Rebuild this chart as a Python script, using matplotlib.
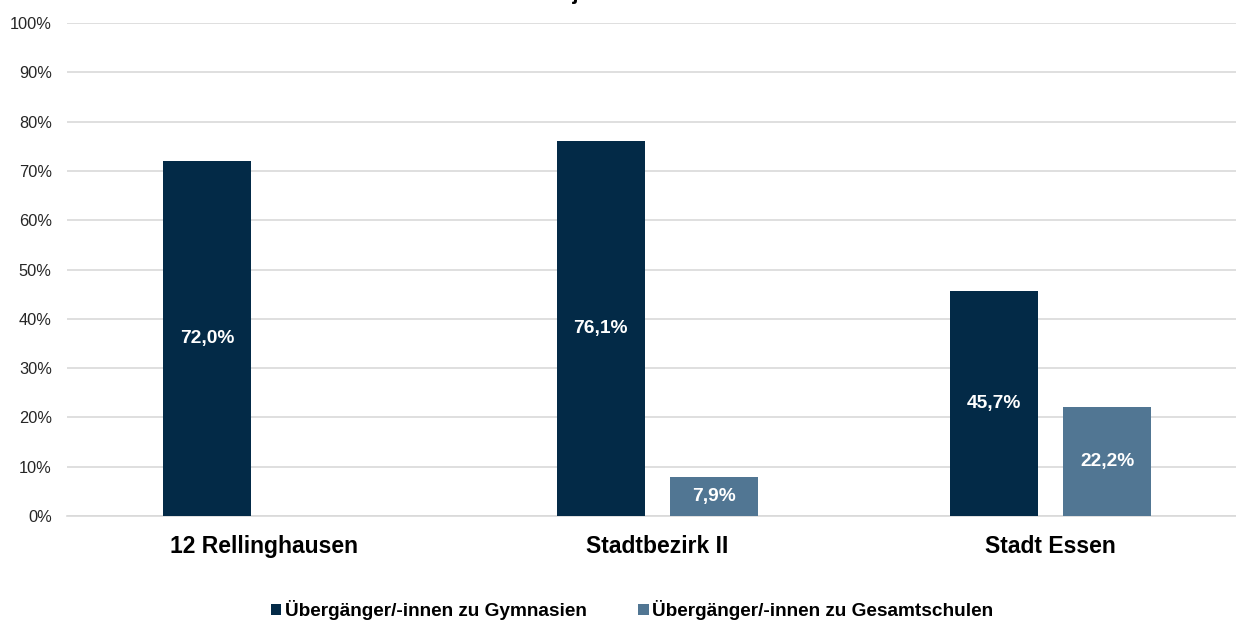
import numpy as np
import matplotlib
matplotlib.use('Agg')
import matplotlib.pyplot as plt
from matplotlib.ticker import FuncFormatter

plt.rcParams['font.family'] = ['Liberation Sans', 'DejaVu Sans']

# Daten
kategorien = ['12 Rellinghausen', 'Stadtbezirk II', 'Stadt Essen']
gymnasien = [72.0, 76.1, 45.7]
gesamtschulen = [np.nan, 7.9, 22.2]
serien = ['Übergänger/-innen zu Gymnasien', 'Übergänger/-innen zu Gesamtschulen']
titel = 'Schuljahr 2020/21'

farbe_dunkel = '#032A47'
farbe_hell = '#517693'

fig = plt.figure(figsize=(12.36, 6.2), dpi=100)
ax = fig.add_axes([67 / 1236, 1 - 516 / 620, 1180.5 / 1236, (516 - 23) / 620])

x = np.arange(len(kategorien))
breite = 0.224
versatz = 0.1435

b1 = ax.bar(x - versatz, gymnasien, breite, color=farbe_dunkel, label=serien[0], zorder=3)
b2 = ax.bar(x + versatz, gesamtschulen, breite, color=farbe_hell, label=serien[1], zorder=3)

# Beschriftung in der Mitte der Balken
for balken in (b1, b2):
    for rect in balken:
        h = rect.get_height()
        if np.isnan(h):
            continue
        ax.text(rect.get_x() + rect.get_width() / 2, h / 2,
                f'{h:.1f}%'.replace('.', ','),
                ha='center', va='center', color='white',
                fontsize=13.8, fontweight='bold', zorder=4)

ax.set_xlim(-0.5, 2.5)
ax.set_ylim(0, 100)
ax.set_yticks(np.arange(0, 101, 10))
ax.yaxis.set_major_formatter(FuncFormatter(lambda v, p: f'{v:.0f}%'))
ax.tick_params(axis='y', length=0, pad=11, labelsize=11.8, labelcolor='#262626')
ax.set_xticks(x)
ax.set_xticklabels(kategorien, fontsize=16.5, fontweight='bold')
ax.tick_params(axis='x', length=0, pad=14)

ax.grid(axis='y', color='#D9D9D9', linewidth=1.2, zorder=0)
for s in ['top', 'right', 'left']:
    ax.spines[s].set_visible(False)
ax.spines['bottom'].set_color('#D9D9D9')
ax.spines['bottom'].set_linewidth(1.2)

# Titel (im Original oben abgeschnitten)
fig.text(0.49, 1 + 1.5 / 620, titel, ha='center', va='baseline',
         fontsize=16, fontweight='bold')

fig.legend(loc='center', bbox_to_anchor=(632 / 1236, 1 - 610 / 620), ncol=2,
           frameon=False, handlelength=0.55, handleheight=0.55, handletextpad=0.2,
           columnspacing=2.7, prop={'size': 13.7, 'weight': 'bold'})

fig.savefig('out.png', dpi=100)
